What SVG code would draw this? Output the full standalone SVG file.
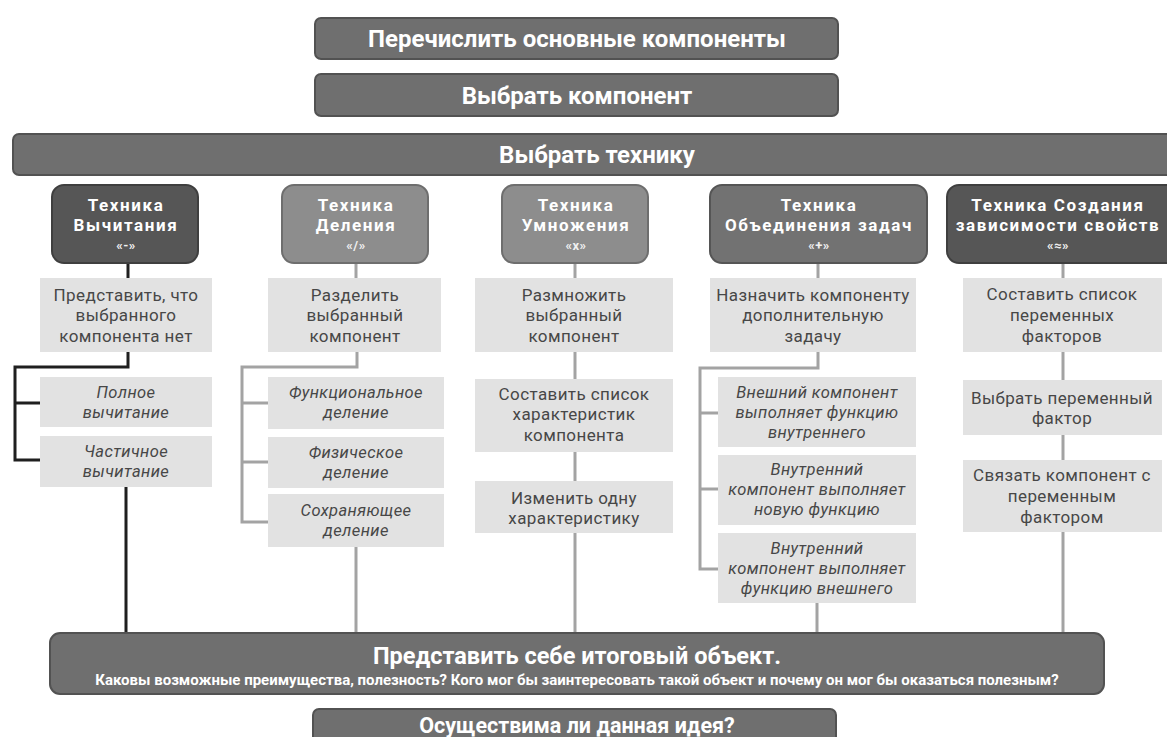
<svg xmlns="http://www.w3.org/2000/svg" width="1167" height="737" viewBox="0 0 1167 737">
<style>
.bg{fill:#ffffff}
.main{fill:#6f6f6f;stroke:#525252;stroke-width:2}
.h-dark{fill:#565656;stroke:#3f3f3f;stroke-width:2}
.h-mid{fill:#727272;stroke:#555555;stroke-width:2}
.h-light{fill:#8d8d8d;stroke:#6e6e6e;stroke-width:2}
.box{fill:#e2e2e2}
.tmain{font-family:Roboto,"Liberation Sans",sans-serif;font-weight:700;fill:#ffffff;text-anchor:middle}
.th{font-family:Roboto,"Liberation Sans",sans-serif;font-weight:700;font-size:17px;letter-spacing:1.6px;fill:#ffffff;text-anchor:middle}
.ths{font-family:Roboto,"Liberation Sans",sans-serif;font-weight:700;font-size:13px;letter-spacing:0.5px;fill:#f0f0f0;text-anchor:middle}
.tb{font-family:Roboto,"Liberation Sans",sans-serif;font-size:17px;letter-spacing:0.4px;fill:#474747;text-anchor:middle}
.ti{font-family:Roboto,"Liberation Sans",sans-serif;font-size:16.5px;letter-spacing:0.4px;font-style:italic;fill:#474747;text-anchor:middle}
.cdark{fill:none;stroke:#1f1f1f;stroke-width:3}
.clight{fill:none;stroke:#a3a3a3;stroke-width:3}
</style>
<rect class="bg" x="0" y="0" width="1167" height="737"/>

<g id="connectors">
  <path class="cdark" d="M128 263V278M128 352V367H15V460H40M15 403H40M126 487V633"/>
  <path class="clight" d="M356 263V278M357 352V367H242V522H268M242 403H268M242 462H268M356 547V633"/>
  <path class="clight" d="M575 263V278M575 352V379M575 452V481M575 533V633"/>
  <path class="clight" d="M818 263V278M818 352V368H700V569H718M700 413H718M700 489H718M817 603V633"/>
  <path class="clight" d="M1063 263V278M1063 352V380M1063 435V460M1063 532V633"/>
</g>

<g id="n-list">
  <rect class="main" x="315" y="18" width="523" height="41" rx="6"/>
  <text class="tmain" x="577" y="47" font-size="24">Перечислить основные компоненты</text>
</g>
<g id="n-choose-comp">
  <rect class="main" x="315" y="74" width="523" height="42" rx="6"/>
  <text class="tmain" x="577" y="104" font-size="24">Выбрать компонент</text>
</g>
<g id="n-choose-tech">
  <rect class="main" x="13" y="134" width="1165" height="41" rx="6"/>
  <text class="tmain" x="597" y="163" font-size="24">Выбрать технику</text>
</g>

<g id="h-sub">
  <rect class="h-dark" x="52" y="185" width="146" height="78" rx="12"/>
  <text class="th" x="126" y="211">Техника</text>
  <text class="th" x="126" y="231">Вычитания</text>
  <text class="ths" x="126" y="250">«-»</text>
</g>
<g id="h-div">
  <rect class="h-light" x="282" y="185" width="146" height="78" rx="12"/>
  <text class="th" x="356" y="211">Техника</text>
  <text class="th" x="356" y="231">Деления</text>
  <text class="ths" x="356" y="250">«/»</text>
</g>
<g id="h-mul">
  <rect class="h-light" x="502" y="185" width="146" height="78" rx="12"/>
  <text class="th" x="576" y="211">Техника</text>
  <text class="th" x="576" y="231">Умножения</text>
  <text class="ths" x="576" y="250">«x»</text>
</g>
<g id="h-unite">
  <rect class="h-mid" x="710" y="185" width="217" height="78" rx="12"/>
  <text class="th" x="819" y="211">Техника</text>
  <text class="th" x="819" y="231">Объединения задач</text>
  <text class="ths" x="819" y="250">«+»</text>
</g>
<g id="h-dep">
  <rect class="h-dark" x="947" y="185" width="232" height="78" rx="12"/>
  <text class="th" x="1058" y="211">Техника Создания</text>
  <text class="th" x="1058" y="231">зависимости свойств</text>
  <text class="ths" x="1058" y="250">«≈»</text>
</g>

<g id="b1">
  <rect class="box" x="40" y="278" width="172" height="74"/>
  <text class="tb" x="126" y="301">Представить, что</text>
  <text class="tb" x="126" y="321">выбранного</text>
  <text class="tb" x="126" y="342">компонента нет</text>
</g>
<g id="b1a">
  <rect class="box" x="40" y="377" width="172" height="50"/>
  <text class="ti" x="126" y="398">Полное</text>
  <text class="ti" x="126" y="418">вычитание</text>
</g>
<g id="b1b">
  <rect class="box" x="40" y="436" width="172" height="51"/>
  <text class="ti" x="126" y="457">Частичное</text>
  <text class="ti" x="126" y="477">вычитание</text>
</g>

<g id="b2">
  <rect class="box" x="268" y="278" width="173" height="74"/>
  <text class="tb" x="355" y="301">Разделить</text>
  <text class="tb" x="355" y="321">выбранный</text>
  <text class="tb" x="355" y="342">компонент</text>
</g>
<g id="b2a">
  <rect class="box" x="268" y="377" width="176" height="52"/>
  <text class="ti" x="356" y="398">Функциональное</text>
  <text class="ti" x="356" y="418">деление</text>
</g>
<g id="b2b">
  <rect class="box" x="268" y="437" width="176" height="51"/>
  <text class="ti" x="356" y="458">Физическое</text>
  <text class="ti" x="356" y="478">деление</text>
</g>
<g id="b2c">
  <rect class="box" x="268" y="494" width="176" height="53"/>
  <text class="ti" x="356" y="516">Сохраняющее</text>
  <text class="ti" x="356" y="536">деление</text>
</g>

<g id="b3">
  <rect class="box" x="475" y="278" width="198" height="74"/>
  <text class="tb" x="574" y="301">Размножить</text>
  <text class="tb" x="574" y="321">выбранный</text>
  <text class="tb" x="574" y="342">компонент</text>
</g>
<g id="b3a">
  <rect class="box" x="475" y="379" width="198" height="73"/>
  <text class="tb" x="574" y="400">Составить список</text>
  <text class="tb" x="574" y="420">характеристик</text>
  <text class="tb" x="574" y="441">компонента</text>
</g>
<g id="b3b">
  <rect class="box" x="475" y="481" width="198" height="52"/>
  <text class="tb" x="574" y="504">Изменить одну</text>
  <text class="tb" x="574" y="524">характеристику</text>
</g>

<g id="b4">
  <rect class="box" x="710" y="278" width="206" height="74"/>
  <text class="tb" x="813" y="301">Назначить компоненту</text>
  <text class="tb" x="813" y="321">дополнительную</text>
  <text class="tb" x="813" y="342">задачу</text>
</g>
<g id="b4a">
  <rect class="box" x="718" y="377" width="198" height="70"/>
  <text class="ti" x="817" y="398">Внешний компонент</text>
  <text class="ti" x="817" y="418">выполняет функцию</text>
  <text class="ti" x="817" y="438">внутреннего</text>
</g>
<g id="b4b">
  <rect class="box" x="718" y="455" width="198" height="70"/>
  <text class="ti" x="817" y="475">Внутренний</text>
  <text class="ti" x="817" y="495">компонент выполняет</text>
  <text class="ti" x="817" y="515">новую функцию</text>
</g>
<g id="b4c">
  <rect class="box" x="718" y="533" width="198" height="70"/>
  <text class="ti" x="817" y="554">Внутренний</text>
  <text class="ti" x="817" y="574">компонент выполняет</text>
  <text class="ti" x="817" y="594">функцию внешнего</text>
</g>

<g id="b5">
  <rect class="box" x="963" y="278" width="199" height="74"/>
  <text class="tb" x="1062" y="300">Составить список</text>
  <text class="tb" x="1062" y="321">переменных</text>
  <text class="tb" x="1062" y="342">факторов</text>
</g>
<g id="b5a">
  <rect class="box" x="963" y="380" width="199" height="55"/>
  <text class="tb" x="1062" y="404">Выбрать переменный</text>
  <text class="tb" x="1062" y="424">фактор</text>
</g>
<g id="b5b">
  <rect class="box" x="963" y="460" width="199" height="72"/>
  <text class="tb" x="1062" y="481">Связать компонент с</text>
  <text class="tb" x="1062" y="502">переменным</text>
  <text class="tb" x="1062" y="523">фактором</text>
</g>

<g id="n-result">
  <rect class="main" x="50" y="633" width="1054" height="61" rx="10"/>
  <text class="tmain" x="577" y="664" font-size="23.5">Представить себе итоговый объект.</text>
  <text class="tmain" x="577" y="685" font-size="15">Каковы возможные преимущества, полезность? Кого мог бы заинтересовать такой объект и почему он мог бы оказаться полезным?</text>
</g>
<g id="n-feasible">
  <rect class="main" x="313" y="709" width="523" height="42" rx="6"/>
  <text class="tmain" x="577" y="733" font-size="21.5">Осуществима ли данная идея?</text>
</g>
</svg>
